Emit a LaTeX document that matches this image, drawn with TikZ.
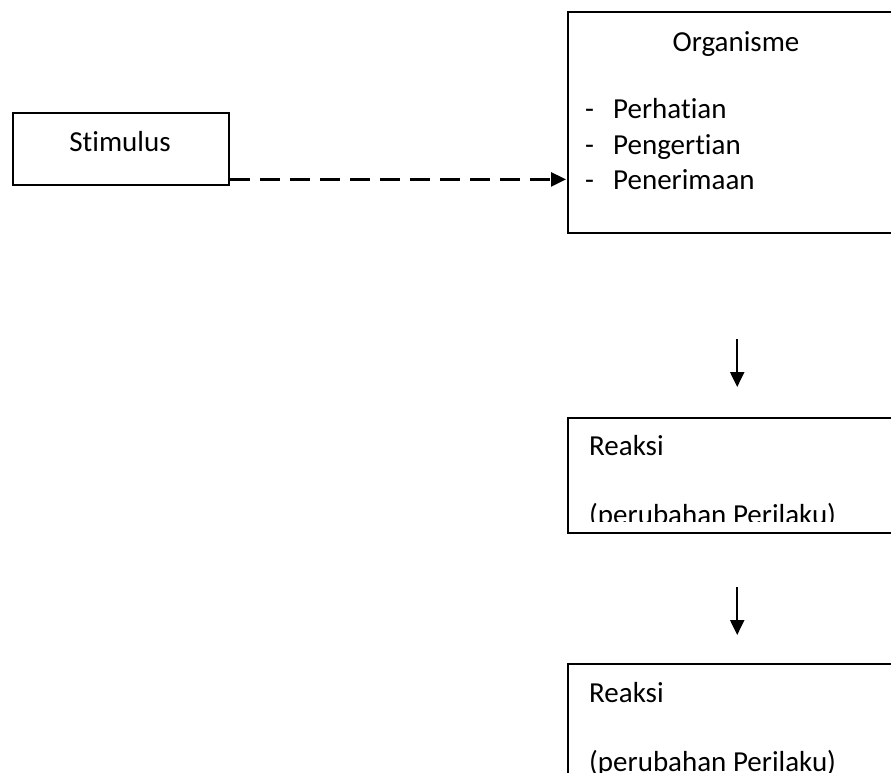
\documentclass[tikz,border=0pt]{standalone}
\usepackage{fontspec}
\setmainfont{Carlito}[Ligatures=NoCommon]
\usetikzlibrary{arrows.meta}
\tikzset{
	>={Triangle[length=15pt,width=14pt]},
	kotak/.style={
		rectangle,
		draw=black, line width=2.4pt,
		anchor=north west,
		inner sep=0pt},
	teks/.style={
		anchor=base west,
		inner sep=0pt,
		font=\fontsize{29}{34}\selectfont},
	panah/.style={draw, line width=2.2pt, ->},
	putus/.style={panah, line width=2.6pt, dash pattern=on 20pt off 10pt, shorten >=1pt},
}

\begin{document}
\begin{tikzpicture}[x=1pt,y=-1pt]
	\useasboundingbox (0,0) rectangle (891,773);
	\clip (0,0) rectangle (891,773);

	% kotak
	\node[kotak, minimum width=216pt, minimum height=72pt] (stimulus) at (12,112) {};
	\node[kotak, minimum width=338pt, minimum height=221pt] (organisme) at (567,11) {};
	\node[kotak, minimum width=338pt, minimum height=115pt] (reaksiA) at (567,417) {};
	\node[kotak, minimum width=338pt, minimum height=150pt] (reaksiB) at (567,663) {};

	% teks
	\node[teks, anchor=base] (tStim) at (120,151) {Stimulus};
	\node[teks, anchor=base] (tOrg) at (736,52) {Organisme};
	\node[teks] (d1) at (585,119) {-};
	\node[teks] (d2) at (585,154) {-};
	\node[teks] (d3) at (585,189) {-};
	\node[teks] (tPerh) at (613,119) {Perhatian};
	\node[teks] (tPeng) at (613,154) {Pengertian};
	\node[teks] (tPener) at (613,189) {Penerimaan};
	\node[teks] (tReA) at (589,455) {Reaksi};
	\begin{scope}
		\clip (567,417) rectangle (905,521);
		\node[teks] (tPerA) at (589,524) {(perubahan Perilaku)};
	\end{scope}
	\node[teks] (tReB) at (589,702) {Reaksi};
	\node[teks] (tPerB) at (589,771) {(perubahan Perilaku)};

	% panah
	\coordinate (dariS) at ([yshift=7pt]stimulus.south east);
	\draw[putus] (dariS) -- (organisme.west |- dariS);
	\coordinate (p1a) at ([yshift=78pt]reaksiA.north);
	\coordinate (p1b) at ([yshift=30pt]reaksiA.north);
	\draw[panah] (p1a) -- (p1b);
	\coordinate (p2a) at ([yshift=76pt]reaksiB.north);
	\coordinate (p2b) at ([yshift=28pt]reaksiB.north);
	\draw[panah] (p2a) -- (p2b);
\end{tikzpicture}
\end{document}
